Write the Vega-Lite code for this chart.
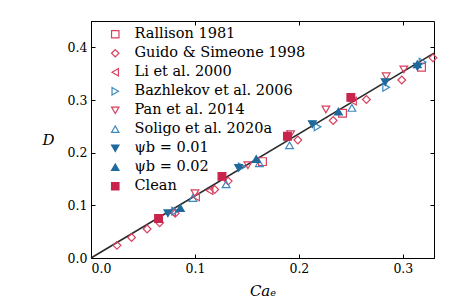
{
  "$schema": "https://vega.github.io/schema/vega-lite/v6.json",
  "width": 343,
  "height": 237,
  "autosize": {"type": "none"},
  "padding": {"left": 91, "top": 21, "right": 23, "bottom": 47},
  "background": "white",
  "config": {
    "view": {"stroke": "black", "strokeWidth": 1},
    "font": "DejaVu Serif",
    "axis": {
      "grid": false,
      "domainColor": "black",
      "tickColor": "black",
      "tickSize": -4,
      "labelColor": "black",
      "labelFont": "DejaVu Serif",
      "labelFontSize": 12.5,
      "titleFont": "DejaVu Serif",
      "titleFontSize": 15,
      "titleFontStyle": "italic",
      "titleFontWeight": "normal",
      "titleColor": "black"
    },
    "legend": {"labelFont": "DejaVu Serif"}
  },
  "datasets": {
    "fit": [
      {"Ca": 0, "D": 0},
      {"Ca": 0.33, "D": 0.389}
    ],
    "pts": [
      {"series": "Rallison 1981", "Ca": 0.165, "D": 0.183},
      {"series": "Rallison 1981", "Ca": 0.242, "D": 0.275},
      {"series": "Rallison 1981", "Ca": 0.318, "D": 0.362},
      {"series": "Guido & Simeone 1998", "Ca": 0.025, "D": 0.024},
      {"series": "Guido & Simeone 1998", "Ca": 0.039, "D": 0.039},
      {"series": "Guido & Simeone 1998", "Ca": 0.054, "D": 0.055},
      {"series": "Guido & Simeone 1998", "Ca": 0.066, "D": 0.067},
      {"series": "Guido & Simeone 1998", "Ca": 0.081, "D": 0.085},
      {"series": "Guido & Simeone 1998", "Ca": 0.119, "D": 0.130},
      {"series": "Guido & Simeone 1998", "Ca": 0.132, "D": 0.146},
      {"series": "Guido & Simeone 1998", "Ca": 0.199, "D": 0.224},
      {"series": "Guido & Simeone 1998", "Ca": 0.233, "D": 0.261},
      {"series": "Guido & Simeone 1998", "Ca": 0.265, "D": 0.301},
      {"series": "Guido & Simeone 1998", "Ca": 0.299, "D": 0.338},
      {"series": "Guido & Simeone 1998", "Ca": 0.329, "D": 0.380},
      {"series": "Li et al. 2000", "Ca": 0.078, "D": 0.087},
      {"series": "Li et al. 2000", "Ca": 0.101, "D": 0.116},
      {"series": "Li et al. 2000", "Ca": 0.114, "D": 0.128},
      {"series": "Li et al. 2000", "Ca": 0.252, "D": 0.298},
      {"series": "Bazhlekov et al. 2006", "Ca": 0.081, "D": 0.089},
      {"series": "Bazhlekov et al. 2006", "Ca": 0.145, "D": 0.173},
      {"series": "Bazhlekov et al. 2006", "Ca": 0.218, "D": 0.249},
      {"series": "Bazhlekov et al. 2006", "Ca": 0.284, "D": 0.324},
      {"series": "Bazhlekov et al. 2006", "Ca": 0.319, "D": 0.372},
      {"series": "Pan et al. 2014", "Ca": 0.100, "D": 0.123},
      {"series": "Pan et al. 2014", "Ca": 0.151, "D": 0.176},
      {"series": "Pan et al. 2014", "Ca": 0.192, "D": 0.235},
      {"series": "Pan et al. 2014", "Ca": 0.226, "D": 0.282},
      {"series": "Pan et al. 2014", "Ca": 0.284, "D": 0.345},
      {"series": "Pan et al. 2014", "Ca": 0.301, "D": 0.358},
      {"series": "Soligo et al. 2020a", "Ca": 0.098, "D": 0.114},
      {"series": "Soligo et al. 2020a", "Ca": 0.130, "D": 0.140},
      {"series": "Soligo et al. 2020a", "Ca": 0.162, "D": 0.180},
      {"series": "Soligo et al. 2020a", "Ca": 0.191, "D": 0.214},
      {"series": "Soligo et al. 2020a", "Ca": 0.251, "D": 0.285},
      {"series": "ψb = 0.01", "Ca": 0.074, "D": 0.085},
      {"series": "ψb = 0.01", "Ca": 0.142, "D": 0.171},
      {"series": "ψb = 0.01", "Ca": 0.213, "D": 0.254},
      {"series": "ψb = 0.01", "Ca": 0.283, "D": 0.334},
      {"series": "ψb = 0.01", "Ca": 0.314, "D": 0.363},
      {"series": "ψb = 0.02", "Ca": 0.086, "D": 0.095},
      {"series": "ψb = 0.02", "Ca": 0.159, "D": 0.188},
      {"series": "ψb = 0.02", "Ca": 0.238, "D": 0.278},
      {"series": "ψb = 0.02", "Ca": 0.314, "D": 0.368},
      {"series": "Clean", "Ca": 0.065, "D": 0.075},
      {"series": "Clean", "Ca": 0.126, "D": 0.155},
      {"series": "Clean", "Ca": 0.189, "D": 0.231},
      {"series": "Clean", "Ca": 0.250, "D": 0.305}
    ]
  },
  "layer": [
    {
      "data": {"name": "fit"},
      "mark": {"type": "line", "color": "#2b2b2b", "strokeWidth": 1.6},
      "encoding": {
        "x": {"field": "Ca", "type": "quantitative", "scale": {"domain": [0, 0.33], "nice": false, "zero": false},
          "axis": {"orient": "bottom", "values": [0, 0.1, 0.2, 0.3], "format": ".1f", "title": "Caₑ", "labelPadding": 8, "titlePadding": 9}},
        "y": {"field": "D", "type": "quantitative", "scale": {"domain": [0, 0.45], "nice": false, "zero": false},
          "axis": {"orient": "left", "values": [0, 0.1, 0.2, 0.3, 0.4], "format": ".1f", "title": "D", "titleAngle": 0, "titleAlign": "center", "titleBaseline": "middle", "labelPadding": 8, "titlePadding": 19}}
      }
    },
    {
      "data": {"name": "pts"},
      "mark": {"type": "point", "size": 60, "strokeWidth": 1.2, "opacity": 1},
      "encoding": {
        "x": {"field": "Ca", "type": "quantitative",
          "axis": {"orient": "top", "values": [0, 0.1, 0.2, 0.3], "labels": false, "title": null, "domain": false}},
        "y": {"field": "D", "type": "quantitative",
          "axis": {"orient": "right", "values": [0, 0.1, 0.2, 0.3, 0.4], "labels": false, "title": null, "domain": false}},
        "shape": {"field": "series", "type": "nominal",
          "scale": {"domain": ["Rallison 1981", "Guido & Simeone 1998", "Li et al. 2000", "Bazhlekov et al. 2006", "Pan et al. 2014", "Soligo et al. 2020a", "ψb = 0.01", "ψb = 0.02", "Clean"],
            "range": ["square", "diamond", "triangle-left", "triangle-right", "triangle-down", "triangle-up", "triangle-down", "triangle-up", "square"]},
          "legend": {"orient": "none", "legendX": 17, "legendY": 6, "title": null, "padding": 0, "labelFont": "DejaVu Serif", "labelFontSize": 14.5, "labelLimit": 400, "labelColor": "black", "symbolSize": 55, "symbolStrokeWidth": 1.2, "rowPadding": 4, "labelOffset": 12}},
        "stroke": {"field": "series", "type": "nominal",
          "scale": {"domain": ["Rallison 1981", "Guido & Simeone 1998", "Li et al. 2000", "Bazhlekov et al. 2006", "Pan et al. 2014", "Soligo et al. 2020a", "ψb = 0.01", "ψb = 0.02", "Clean"],
            "range": ["#d8405e", "#d8405e", "#d8405e", "#3d87bd", "#d8405e", "#3d87bd", "#1f6a9c", "#1f6a9c", "#c9244b"]}},
        "fill": {"field": "series", "type": "nominal",
          "scale": {"domain": ["Rallison 1981", "Guido & Simeone 1998", "Li et al. 2000", "Bazhlekov et al. 2006", "Pan et al. 2014", "Soligo et al. 2020a", "ψb = 0.01", "ψb = 0.02", "Clean"],
            "range": ["transparent", "transparent", "transparent", "transparent", "transparent", "transparent", "#1f6a9c", "#1f6a9c", "#c9244b"]}}
      }
    }
  ],
  "resolve": {"axis": {"x": "independent", "y": "independent"}}
}
